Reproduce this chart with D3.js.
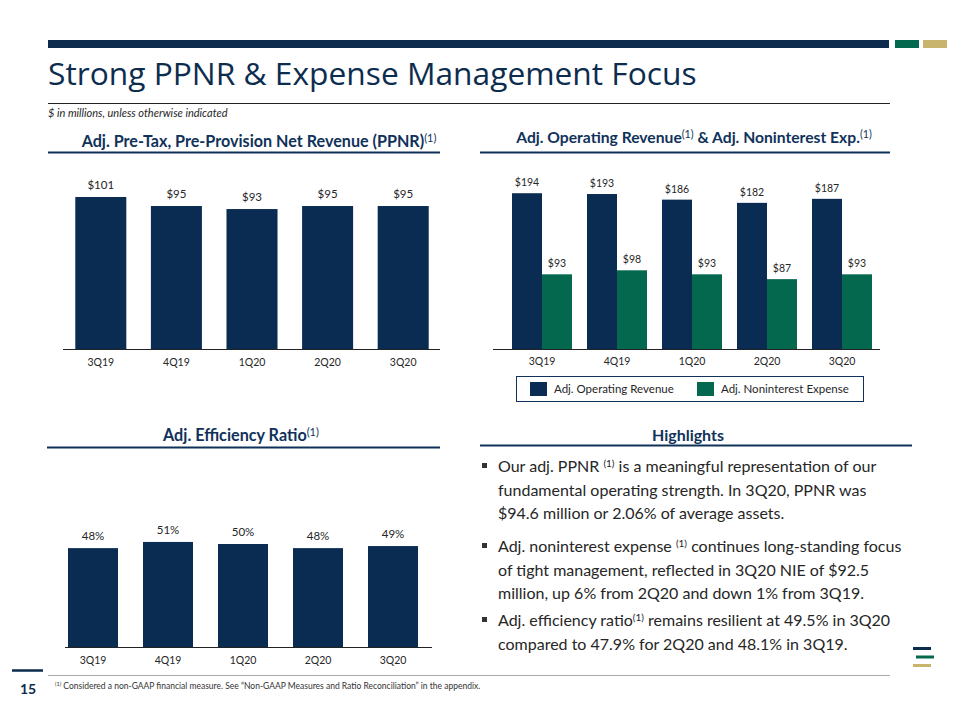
<!DOCTYPE html>
<html><head><meta charset="utf-8">
<script src="https://cdn.jsdelivr.net/npm/d3@7"></script>
<style>
html,body{margin:0;padding:0;background:#fff;}
svg{display:block;}
text{font-family:Lato,"Open Sans",sans-serif;}
</style></head>
<body>
<svg id="chart" width="960" height="720"></svg>
<script>
// ---------- data ----------
const quarters = ["3Q19","4Q19","1Q20","2Q20","3Q20"];
const ppnr = [101, 95, 93, 95, 95];
const operatingRevenue = [194, 193, 186, 182, 187];
const noninterestExpense = [93, 98, 93, 87, 93];
const efficiencyRatio = [48, 51, 50, 48, 49];
const seriesNames = ["Adj. Operating Revenue", "Adj. Noninterest Expense"];
const highlights = [
  [["Our adj. PPNR ",""],["(1)","sup"],[" is a meaningful representation of our",""],
   ["|",""],["fundamental operating strength.  In 3Q20, PPNR was",""],
   ["|",""],["$94.6 million or 2.06% of average assets.",""]],
  [["Adj. noninterest expense ",""],["(1)","sup"],[" continues long-standing focus",""],
   ["|",""],["of tight management, reflected in 3Q20 NIE of $92.5",""],
   ["|",""],["million, up 6% from 2Q20 and down 1% from 3Q19.",""]],
  [["Adj. efficiency ratio",""],["(1)","sup"],[" remains resilient at 49.5% in 3Q20",""],
   ["|",""],["compared to 47.9% for 2Q20 and 48.1% in 3Q19.",""]]
];

const NAVY = "#0b2c52", GREEN = "#04684f", GOLD = "#c8b46c", TXT = "#262626";
const svg = d3.select("#chart");

// ---------- frame ----------
svg.append("rect").attr("x",48).attr("y",40).attr("width",841).attr("height",8).attr("fill","#0d2b4c");
svg.append("rect").attr("x",895).attr("y",40).attr("width",24).attr("height",8).attr("fill",GREEN);
svg.append("rect").attr("x",923).attr("y",40).attr("width",24).attr("height",8).attr("fill",GOLD);

const title = svg.append("text").attr("x",48).attr("y",85)
  .style("font-family","'Open Sans',sans-serif").style("font-size","28px").style("font-weight","400").attr("fill","#0d2d4f")
  .text("Strong PPNR & Expense Management Focus");
{const w = title.node().getComputedTextLength(); title.style("font-size",(28*649/w)+"px");}

svg.append("line").attr("x1",48).attr("x2",890).attr("y1",103.5).attr("y2",103.5).attr("stroke","#222").attr("stroke-width",1);
svg.append("text").attr("x",48).attr("y",117).style("font-size","11px").style("font-style","italic")
  .attr("fill",TXT).text("$ in millions, unless otherwise indicated");

function header(cx, y, parts, targetW, lx1, lx2, ly){
  const t = svg.append("text").attr("x",cx).attr("y",y).attr("text-anchor","middle")
    .style("font-size","14px").style("font-weight","bold").attr("fill","#10325a");
  parts.forEach(p=>{
    if(p[1]==="sup") t.append("tspan").attr("dy",-5).style("font-size","0.68em").style("font-weight","normal").text(p[0]);
    else if(p[1]==="after") t.append("tspan").attr("dy",5).text(p[0]);
    else t.append("tspan").text(p[0]);
  });
  const w = t.node().getComputedTextLength();
  t.style("font-size",(14*targetW/w)+"px");
  svg.append("line").attr("x1",lx1).attr("x2",lx2).attr("y1",ly).attr("y2",ly).attr("stroke","#10325a").attr("stroke-width",2);
}

// ---------- chart 1: PPNR ----------
header(259,147,[["Adj. Pre-Tax, Pre-Provision  Net Revenue (PPNR)",""],["(1)","sup"]],355,48,440,152.5);
{
  const x = d3.scaleBand().domain(quarters).range([63,441]).paddingInner(0.325).paddingOuter(0.1625);
  const y = d3.scaleLinear().domain([0,120]).range([349, 349-120*1.505]);
  const g = svg.append("g");
  g.selectAll("rect").data(ppnr).join("rect")
    .attr("x",(d,i)=>x(quarters[i])).attr("width",x.bandwidth())
    .attr("y",d=>y(d)).attr("height",d=>y(0)-y(d)).attr("fill",NAVY);
  g.selectAll("text.v").data(ppnr).join("text").attr("class","v")
    .attr("x",(d,i)=>x(quarters[i])+x.bandwidth()/2).attr("y",d=>y(d)-8)
    .attr("text-anchor","middle").style("font-size","11.5px").attr("fill",TXT).text(d=>"$"+d);
  svg.append("line").attr("x1",63).attr("x2",440).attr("y1",349.5).attr("y2",349.5).attr("stroke","#222").attr("stroke-width",1.2);
  const ax = svg.append("g").attr("transform","translate(0,349)").call(d3.axisBottom(x).tickSize(0).tickPadding(10));
  ax.select(".domain").remove();
  ax.selectAll("text").style("font-size","10.5px").style("font-family","Lato,sans-serif").attr("fill",TXT);
}

// ---------- chart 2: revenue & expense ----------
header(694,143,[["Adj. Operating Revenue",""],["(1)","sup"],[" & Adj. Noninterest Exp.","after"],["(1)","sup"]],356,480,890,152.5);
{
  const x0 = d3.scaleBand().domain(quarters).range([504.5,879.5]).paddingInner(0.2).paddingOuter(0.1);
  const x1 = d3.scaleBand().domain(seriesNames).range([0,x0.bandwidth()]);
  const y = d3.scaleLinear().domain([0,200]).range([349, 349-200*0.803]);
  const color = d3.scaleOrdinal().domain(seriesNames).range([NAVY,GREEN]);
  const rows = quarters.map((q,i)=>({q, vals:[operatingRevenue[i], noninterestExpense[i]]}));
  const grp = svg.append("g").selectAll("g").data(rows).join("g").attr("transform",d=>`translate(${x0(d.q)},0)`);
  grp.selectAll("rect").data(d=>d.vals.map((v,j)=>({k:seriesNames[j],v}))).join("rect")
    .attr("x",d=>x1(d.k)).attr("width",x1.bandwidth()).attr("y",d=>y(d.v)).attr("height",d=>y(0)-y(d.v)).attr("fill",d=>color(d.k));
  grp.selectAll("text").data(d=>d.vals.map((v,j)=>({k:seriesNames[j],v}))).join("text")
    .attr("x",d=>x1(d.k)+x1.bandwidth()/2).attr("y",d=>y(d.v)-7).attr("text-anchor","middle")
    .style("font-size","10.5px").attr("fill",TXT).text(d=>"$"+d.v);
  svg.append("line").attr("x1",493).attr("x2",880).attr("y1",349.5).attr("y2",349.5).attr("stroke","#222").attr("stroke-width",1.2);
  const ax = svg.append("g").attr("transform","translate(0,349)").call(d3.axisBottom(x0).tickSize(0).tickPadding(9));
  ax.select(".domain").remove();
  ax.selectAll("text").style("font-size","10.5px").style("font-family","Lato,sans-serif").attr("fill",TXT);
  // legend
  svg.append("rect").attr("x",516.5).attr("y",376.5).attr("width",347).attr("height",25).attr("fill","#fff").attr("stroke","#10325a").attr("stroke-width",1);
  const lx = [530, 697];
  seriesNames.forEach((s,i)=>{
    svg.append("rect").attr("x",lx[i]).attr("y",382).attr("width",17).attr("height",14).attr("fill",color(s));
    svg.append("text").attr("x",lx[i]+24).attr("y",393).style("font-size","11.5px").attr("fill",TXT).text(s);
  });
}

// ---------- chart 3: efficiency ratio ----------
header(241,441,[["Adj. Efficiency  Ratio",""],["(1)","sup"]],156,47,440,447.5);
{
  const x = d3.scaleBand().domain(quarters).range([55.5,430.5]).paddingInner(1/3).paddingOuter(1/6);
  const y = d3.scaleLinear().domain([0,60]).range([647, 647-60*2.06]);
  const g = svg.append("g");
  g.selectAll("rect").data(efficiencyRatio).join("rect")
    .attr("x",(d,i)=>x(quarters[i])).attr("width",x.bandwidth())
    .attr("y",d=>y(d)).attr("height",d=>y(0)-y(d)).attr("fill",NAVY);
  g.selectAll("text.v").data(efficiencyRatio).join("text").attr("class","v")
    .attr("x",(d,i)=>x(quarters[i])+x.bandwidth()/2).attr("y",d=>y(d)-8)
    .attr("text-anchor","middle").style("font-size","11.5px").attr("fill",TXT).text(d=>d+"%");
  svg.append("line").attr("x1",65).attr("x2",432).attr("y1",647.5).attr("y2",647.5).attr("stroke","#222").attr("stroke-width",1.2);
  const ax = svg.append("g").attr("transform","translate(0,647)").call(d3.axisBottom(x).tickSize(0).tickPadding(10));
  ax.select(".domain").remove();
  ax.selectAll("text").style("font-size","10.5px").style("font-family","Lato,sans-serif").attr("fill",TXT);
}

// ---------- highlights ----------
header(688,441,[["Highlights",""]],72,480,912,445.5);
{
  const startY = [472, 552, 626];
  const lh = 23.5;
  highlights.forEach((para,pi)=>{
    svg.append("rect").attr("x",482).attr("y",startY[pi]-9).attr("width",5).attr("height",5).attr("fill","#333");
    const t = svg.append("text").attr("x",498).attr("y",startY[pi]).style("font-size","16px").attr("fill",TXT);
    let pendingBreak = false, supShift = 0;
    para.forEach(p=>{
      if(p[0]==="|"){ pendingBreak = true; return; }
      const ts = t.append("tspan").text(p[0]);
      if(pendingBreak){ ts.attr("x",498).attr("dy",lh - supShift); supShift=0; pendingBreak=false; }
      else if(p[1]==="sup"){ ts.attr("dy",-5).style("font-size","10px"); supShift=-5; }
      else if(supShift!==0){ ts.attr("dy",-supShift); supShift=0; }
    });
  });
}

// ---------- footer ----------
svg.append("line").attr("x1",12).attr("x2",43).attr("y1",670.5).attr("y2",670.5).attr("stroke","#0d2b4c").attr("stroke-width",2.5);
svg.append("text").attr("x",28).attr("y",694).attr("text-anchor","middle").style("font-size","14px").style("font-weight","bold").attr("fill","#0d2b4c").text("15");
svg.append("line").attr("x1",48).attr("x2",890).attr("y1",675.5).attr("y2",675.5).attr("stroke","#aaa").attr("stroke-width",1);
{
  const f = svg.append("text").attr("x",55).attr("y",689).style("font-size","8.5px").attr("fill","#333");
  f.append("tspan").attr("dy",-3).style("font-size","5.5px").text("(1)");
  f.append("tspan").attr("dy",3).text(" Considered a non-GAAP financial measure.  See \u201CNon-GAAP Measures and Ratio Reconciliation\u201D  in the appendix.");
}
svg.append("rect").attr("x",913).attr("y",647).attr("width",18).attr("height",3).attr("fill","#0d2b4c");
svg.append("rect").attr("x",916).attr("y",655.5).attr("width",18).attr("height",3).attr("fill",GREEN);
svg.append("rect").attr("x",913).attr("y",664).attr("width",18).attr("height",3).attr("fill",GOLD);
</script>
</body></html>
